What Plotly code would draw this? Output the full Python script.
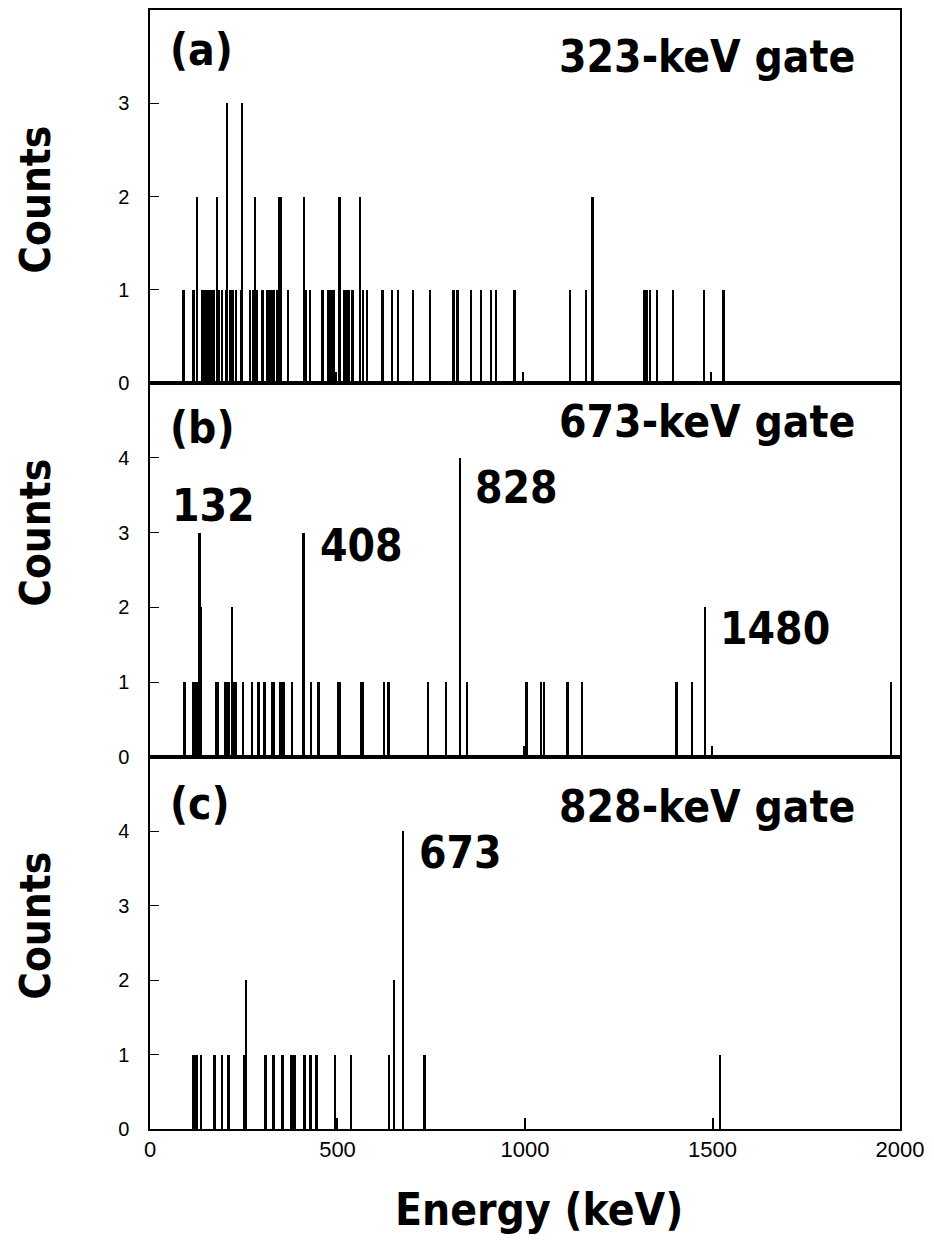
import plotly.graph_objects as go
from plotly.subplots import make_subplots

# ---------------- data ----------------
# Panel (a): 323-keV gate
a_energy = [89, 116, 126, 140, 147, 153, 158, 164, 169, 178, 183, 191, 203, 206, 213, 220, 229,
            242, 245, 267, 276, 280, 286, 300, 311, 317, 323, 329, 338, 343, 350, 367, 411, 416,
            427, 458, 462, 476, 482, 489, 496, 505, 517, 523, 529, 540, 560, 567, 578, 620, 646,
            662, 702, 747, 809, 820, 856, 882, 909, 923, 972, 994, 1120, 1162, 1180, 1317, 1324,
            1333, 1351, 1394, 1478, 1495, 1529]
a_counts = [1, 1, 2, 1, 1, 1, 1, 1, 1, 2, 1, 1, 1, 3, 1, 1, 1,
            1, 3, 1, 1, 2, 1, 1, 1, 1, 1, 1, 1, 2, 2, 1, 2, 1,
            1, 1, 1, 1, 1, 1, 0.12, 2, 1, 1, 1, 1, 2, 1, 1, 1, 1,
            1, 1, 1, 1, 1, 1, 1, 1, 1, 1, 0.12, 1, 1, 2, 1, 1,
            1, 1, 1, 1, 0.12, 1]

# Panel (b): 673-keV gate
b_energy = [92, 114, 118, 124, 132, 136, 175, 180, 201, 206, 211, 218, 224, 229, 247, 271, 289,
            305, 326, 331, 347, 353, 358, 378, 409, 429, 449, 502, 507, 562, 567, 624, 636, 741,
            789, 827, 845, 998, 1004, 1042, 1051, 1113, 1151, 1404, 1446, 1480, 1499, 1976]
b_counts = [1, 1, 1, 1, 3, 2, 1, 1, 1, 1, 1, 2, 1, 1, 1, 1, 1,
            1, 1, 1, 1, 1, 1, 1, 3, 1, 1, 1, 1, 1, 1, 1, 1, 1,
            1, 4, 1, 0.15, 1, 1, 1, 1, 1, 1, 1, 2, 0.15, 1]

# Panel (c): 828-keV gate
c_energy = [116, 121, 126, 135, 172, 191, 209, 252, 256, 308, 329, 353, 375, 380, 385, 412, 428,
            444, 493, 499, 535, 638, 651, 675, 732, 1000, 1502, 1520]
c_counts = [1, 1, 1, 1, 1, 1, 1, 1, 2, 1, 1, 1, 1, 1, 1, 1, 1,
            1, 1, 0.15, 1, 1, 2, 4, 1, 0.15, 0.15, 1]

panel_labels = ["(a)", "(b)", "(c)"]
gate_labels = ["323-keV gate", "673-keV gate", "828-keV gate"]
y_ranges = [[0, 4], [0, 5], [0, 5]]
y_ticks = [[0, 1, 2, 3], [0, 1, 2, 3, 4], [0, 1, 2, 3, 4]]
x_ticks = [0, 500, 1000, 1500, 2000]

# peak labels: (row, text, x, y)
peak_labels = [
    (2, "132", 53, 3.36),
    (2, "408", 448, 2.83),
    (2, "828", 861, 3.6),
    (2, "1480", 1515, 1.72),
    (3, "673", 712, 3.71),
]

BOLD = "DejaVu Sans Condensed, DejaVu Sans, sans-serif"
PLAIN = "Liberation Sans, Arial, sans-serif"

fig = make_subplots(rows=3, cols=1, shared_xaxes=True, vertical_spacing=0,
                    row_heights=[374, 375, 373])

for i, (xs, ys) in enumerate([(a_energy, a_counts), (b_energy, b_counts), (c_energy, c_counts)]):
    fig.add_trace(go.Bar(x=xs, y=ys, width=6,
                         marker=dict(color="black", line=dict(width=0)),
                         showlegend=False), row=i + 1, col=1)

for i in range(3):
    r = i + 1
    fig.update_yaxes(range=y_ranges[i], tickvals=y_ticks[i], ticks="inside", ticklen=9,
                     tickwidth=1, tickcolor="black", showline=True, mirror=True,
                     linecolor="black", linewidth=1.5, showgrid=False, zeroline=False,
                     ticklabelstandoff=15,
                     tickfont=dict(family=PLAIN, size=20, color="black"), row=r, col=1)
    fig.update_xaxes(range=[0, 2000], tickvals=x_ticks, ticks="", showline=True, mirror=True,
                     linecolor="black", linewidth=1.5, showgrid=False, zeroline=False,
                     ticklabelstandoff=0,
                     tickfont=dict(family=PLAIN, size=22, color="black"), row=r, col=1)

yrefs = ["y", "y2", "y3"]
label_y = [3.58, 4.41, 4.37]
gate_y = [3.5, 4.48, 4.34]
for i in range(3):
    fig.add_annotation(x=47, y=label_y[i], xref="x", yref=yrefs[i], text="<b>%s</b>" % panel_labels[i],
                       showarrow=False, xanchor="left", yanchor="middle",
                       font=dict(family=BOLD, size=44, color="black"))
    fig.add_annotation(x=1885, y=gate_y[i], xref="x", yref=yrefs[i], text="<b>%s</b>" % gate_labels[i],
                       showarrow=False, xanchor="right", yanchor="middle",
                       font=dict(family=BOLD, size=44, color="black"))

for row, txt, xv, yv in peak_labels:
    fig.add_annotation(x=xv, y=yv, xref="x", yref=yrefs[row - 1], text="<b>%s</b>" % txt,
                       showarrow=False, xanchor="left", yanchor="middle",
                       font=dict(family=BOLD, size=44, color="black"))

counts_y = [0.8307, 0.533, 0.1818]
for yv in counts_y:
    fig.add_annotation(x=-0.153, y=yv, xref="paper", yref="paper", text="<b>Counts</b>",
                       textangle=-90, showarrow=False, xanchor="center", yanchor="middle",
                       font=dict(family=BOLD, size=42, color="black"))

fig.add_annotation(x=0.519, y=-0.0723, xref="paper", yref="paper", text="<b>Energy (keV)</b>",
                   showarrow=False, xanchor="center", yanchor="middle",
                   font=dict(family=BOLD, size=44, color="black"))

# page body adds an 8 px offset, so the figure is 8 px smaller and margins shifted
fig.update_layout(width=926, height=1232, margin=dict(l=142, r=34, t=0, b=111),
                  paper_bgcolor="white", plot_bgcolor="white", bargap=0)

fig.write_html("out.html")
